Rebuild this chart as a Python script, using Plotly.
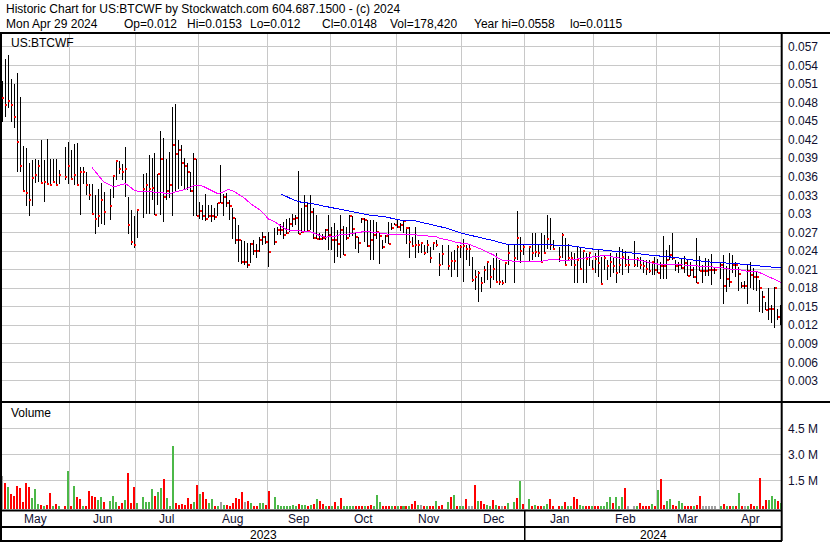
import numpy as np
import pandas as pd
import plotly.graph_objects as go
from plotly.subplots import make_subplots

# ---------------- data ----------------
high = [
    0.0515, 0.0551, 0.0557, 0.0518, 0.0510, 0.0528, 0.0489, 0.0410, 0.0407, 0.0382,
    0.0387, 0.0389, 0.0387, 0.0419, 0.0387, 0.0421, 0.0389, 0.0389, 0.0389, 0.0371,
    0.0408, 0.0416,
    0.0404, 0.0413, 0.0414, 0.0375, 0.0375, 0.0368, 0.0349, 0.0348, 0.0330, 0.0340,
    0.0350, 0.0336, 0.0340, 0.0362, 0.0385, 0.0386, 0.0381, 0.0408, 0.0327, 0.0307,
    0.0296,
    0.0306, 0.0364, 0.0366, 0.0395, 0.0390, 0.0398, 0.0364, 0.0434, 0.0422, 0.0389,
    0.0400, 0.0472, 0.0477, 0.0419, 0.0412, 0.0390, 0.0383, 0.0368, 0.0398, 0.0389,
    0.0319, 0.0314, 0.0332, 0.0314, 0.0314, 0.0310, 0.0318, 0.0379, 0.0332, 0.0333,
    0.0322, 0.0310, 0.0294, 0.0282, 0.0258, 0.0256, 0.0253, 0.0253, 0.0257, 0.0252,
    0.0263, 0.0271, 0.0264,
    0.0271, 0.0278, 0.0279, 0.0283, 0.0287, 0.0292, 0.0294, 0.0300, 0.0298, 0.0369,
    0.0309, 0.0330, 0.0320, 0.0330, 0.0309, 0.0298, 0.0269, 0.0268, 0.0276, 0.0298,
    0.0279, 0.0285, 0.0274, 0.0298, 0.0280, 0.0279, 0.0298, 0.0296, 0.0271, 0.0263,
    0.0293, 0.0293, 0.0290, 0.0290, 0.0290, 0.0287, 0.0269, 0.0258, 0.0266, 0.0287,
    0.0285, 0.0285,
    0.0290, 0.0285, 0.0290, 0.0279, 0.0279, 0.0262, 0.0279, 0.0258, 0.0255, 0.0250,
    0.0258, 0.0247, 0.0255, 0.0258, 0.0236, 0.0250, 0.0250, 0.0239, 0.0242, 0.0250,
    0.0250,
    0.0260, 0.0250, 0.0252, 0.0231, 0.0209, 0.0207, 0.0198, 0.0215, 0.0223, 0.0217,
    0.0228, 0.0236, 0.0225, 0.0193, 0.0220, 0.0252, 0.0252, 0.0305, 0.0263, 0.0252,
    0.0248, 0.0269, 0.0269, 0.0252, 0.0269, 0.0266, 0.0298, 0.0293, 0.0258, 0.0247,
    0.0269, 0.0261, 0.0252, 0.0239, 0.0236, 0.0247, 0.0247, 0.0242, 0.0236, 0.0236,
    0.0226,
    0.0236, 0.0242, 0.0231, 0.0233, 0.0226, 0.0236, 0.0231, 0.0236, 0.0247, 0.0244,
    0.0240, 0.0232, 0.0256, 0.0230, 0.0230, 0.0225, 0.0225, 0.0225, 0.0222, 0.0230,
    0.0227, 0.0222, 0.0264, 0.0242, 0.0250, 0.0269, 0.0225, 0.0222, 0.0227, 0.0232,
    0.0227, 0.0222, 0.0214, 0.0261, 0.0232, 0.0218, 0.0229, 0.0227, 0.0235, 0.0214,
    0.0222, 0.0233, 0.0215, 0.0236, 0.0233, 0.0222, 0.0214, 0.0190, 0.0192, 0.0219,
    0.0222, 0.0212, 0.0207, 0.0193, 0.0176, 0.0158, 0.0181, 0.0153, 0.0182, 0.0147,
    0.0153,
]
low = [
    0.0449, 0.0457, 0.0471, 0.0449, 0.0439, 0.0368, 0.0368, 0.0336, 0.0313, 0.0297,
    0.0313, 0.0350, 0.0351, 0.0350, 0.0319, 0.0349, 0.0345, 0.0352, 0.0345, 0.0349,
    0.0355, 0.0348,
    0.0356, 0.0347, 0.0347, 0.0298, 0.0348, 0.0330, 0.0322, 0.0298, 0.0268, 0.0279,
    0.0283, 0.0282, 0.0290, 0.0325, 0.0355, 0.0365, 0.0355, 0.0327, 0.0267, 0.0250,
    0.0245,
    0.0261, 0.0294, 0.0300, 0.0300, 0.0323, 0.0298, 0.0314, 0.0298, 0.0287, 0.0322,
    0.0325, 0.0297, 0.0336, 0.0340, 0.0345, 0.0341, 0.0338, 0.0336, 0.0297, 0.0296,
    0.0292, 0.0290, 0.0288, 0.0293, 0.0287, 0.0290, 0.0297, 0.0318, 0.0297, 0.0311,
    0.0290, 0.0260, 0.0252, 0.0223, 0.0219, 0.0217, 0.0212, 0.0221, 0.0234, 0.0228,
    0.0239, 0.0250, 0.0252,
    0.0214, 0.0249, 0.0266, 0.0266, 0.0260, 0.0267, 0.0271, 0.0279, 0.0282, 0.0267,
    0.0269, 0.0271, 0.0271, 0.0274, 0.0260, 0.0260, 0.0258, 0.0258, 0.0258, 0.0242,
    0.0242, 0.0220, 0.0231, 0.0228, 0.0234, 0.0258, 0.0263, 0.0265, 0.0244, 0.0237,
    0.0285, 0.0255, 0.0247, 0.0225, 0.0225, 0.0260, 0.0219, 0.0244, 0.0253, 0.0252,
    0.0274, 0.0282,
    0.0277, 0.0272, 0.0269, 0.0252, 0.0228, 0.0246, 0.0228, 0.0236, 0.0236, 0.0234,
    0.0236, 0.0220, 0.0242, 0.0247, 0.0200, 0.0217, 0.0209, 0.0198, 0.0209, 0.0198,
    0.0228,
    0.0190, 0.0225, 0.0215, 0.0190, 0.0177, 0.0158, 0.0174, 0.0188, 0.0193, 0.0180,
    0.0193, 0.0190, 0.0185, 0.0185, 0.0188, 0.0217, 0.0188, 0.0225, 0.0220, 0.0234,
    0.0223, 0.0225, 0.0231, 0.0231, 0.0222, 0.0235, 0.0244, 0.0242, 0.0242, 0.0222,
    0.0228, 0.0217, 0.0225, 0.0215, 0.0188, 0.0188, 0.0210, 0.0188, 0.0188, 0.0215,
    0.0209,
    0.0205, 0.0198, 0.0185, 0.0209, 0.0193, 0.0198, 0.0205, 0.0188, 0.0205, 0.0201,
    0.0214, 0.0204, 0.0214, 0.0214, 0.0211, 0.0204, 0.0202, 0.0204, 0.0202, 0.0202,
    0.0204, 0.0194, 0.0194, 0.0194, 0.0225, 0.0225, 0.0207, 0.0204, 0.0211, 0.0204,
    0.0200, 0.0200, 0.0197, 0.0188, 0.0207, 0.0188, 0.0200, 0.0200, 0.0185, 0.0203,
    0.0194, 0.0155, 0.0174, 0.0182, 0.0204, 0.0198, 0.0176, 0.0180, 0.0178, 0.0155,
    0.0181, 0.0177, 0.0176, 0.0142, 0.0140, 0.0144, 0.0128, 0.0123, 0.0115, 0.0129,
    0.0120,
]
close = [
    0.0488, 0.0476, 0.0482, 0.0476, 0.0457, 0.0417, 0.0378, 0.0337, 0.0334, 0.0323,
    0.0358, 0.0363, 0.0378, 0.0350, 0.0352, 0.0349, 0.0347, 0.0352, 0.0347, 0.0363,
    0.0359, 0.0378,
    0.0356, 0.0363, 0.0347, 0.0367, 0.0368, 0.0347, 0.0330, 0.0300, 0.0292, 0.0297,
    0.0323, 0.0303, 0.0313, 0.0362, 0.0385, 0.0373, 0.0368, 0.0373, 0.0282, 0.0255,
    0.0249,
    0.0306, 0.0340, 0.0347, 0.0340, 0.0342, 0.0298, 0.0364, 0.0388, 0.0328, 0.0337,
    0.0346, 0.0411, 0.0397, 0.0403, 0.0382, 0.0378, 0.0367, 0.0337, 0.0388, 0.0297,
    0.0305, 0.0297, 0.0291, 0.0297, 0.0297, 0.0295, 0.0318, 0.0318, 0.0327, 0.0318,
    0.0313, 0.0294, 0.0258, 0.0258, 0.0223, 0.0223, 0.0218, 0.0252, 0.0240, 0.0240,
    0.0257, 0.0263, 0.0254,
    0.0239, 0.0254, 0.0274, 0.0274, 0.0266, 0.0269, 0.0284, 0.0292, 0.0294, 0.0267,
    0.0270, 0.0312, 0.0273, 0.0303, 0.0261, 0.0260, 0.0260, 0.0261, 0.0274, 0.0266,
    0.0258, 0.0258, 0.0251, 0.0274, 0.0234, 0.0261, 0.0297, 0.0276, 0.0263, 0.0253,
    0.0291, 0.0290, 0.0248, 0.0258, 0.0266, 0.0270, 0.0264, 0.0246, 0.0264, 0.0252,
    0.0277, 0.0282,
    0.0279, 0.0282, 0.0288, 0.0277, 0.0255, 0.0248, 0.0250, 0.0250, 0.0253, 0.0237,
    0.0250, 0.0228, 0.0253, 0.0250, 0.0218, 0.0235, 0.0215, 0.0224, 0.0224, 0.0247,
    0.0247,
    0.0248, 0.0244, 0.0244, 0.0193, 0.0198, 0.0204, 0.0189, 0.0210, 0.0222, 0.0198,
    0.0211, 0.0190, 0.0190, 0.0188, 0.0220, 0.0236, 0.0228, 0.0261, 0.0240, 0.0247,
    0.0247, 0.0237, 0.0239, 0.0236, 0.0223, 0.0237, 0.0259, 0.0249, 0.0244, 0.0230,
    0.0266, 0.0218, 0.0228, 0.0228, 0.0218, 0.0225, 0.0211, 0.0240, 0.0227, 0.0236,
    0.0211,
    0.0227, 0.0221, 0.0187, 0.0228, 0.0216, 0.0223, 0.0215, 0.0205, 0.0218, 0.0231,
    0.0218, 0.0218, 0.0218, 0.0227, 0.0218, 0.0215, 0.0211, 0.0208, 0.0222, 0.0210,
    0.0205, 0.0215, 0.0215, 0.0225, 0.0233, 0.0228, 0.0215, 0.0218, 0.0213, 0.0221,
    0.0200, 0.0209, 0.0198, 0.0188, 0.0208, 0.0208, 0.0208, 0.0210, 0.0210, 0.0209,
    0.0217, 0.0183, 0.0194, 0.0190, 0.0218, 0.0218, 0.0203, 0.0183, 0.0183, 0.0207,
    0.0202, 0.0198, 0.0198, 0.0180, 0.0166, 0.0145, 0.0147, 0.0147, 0.0181, 0.0133,
    0.0148,
]
# daily volume, millions of shares
volume_m = [
    1.75, 1.37, 1.13, 0.71, 0.60, 1.17, 1.06, 0.27, 1.35, 1.12,
    0.50, 1.00, 0.13, 0.10, 0.03, 0.08, 0.77, 0.03, 0.13, 0.03,
    0.03, 2.06, 0.03, 1.19, 0.54, 0.40, 0.02, 0.01, 0.88, 0.60,
    0.56, 0.37, 0.54, 0.27, 0.33, 0.60, 0.25, 0.03, 0.19, 0.37,
    1.92, 0.21, 1.12, 0.21, 0.54, 0.27, 0.25, 1.00, 0.60, 0.83,
    1.06, 1.58, 0.50, 0.03, 3.48, 0.19, 0.10, 0.11, 0.08, 0.48,
    0.13, 0.27, 1.23, 0.71, 0.83, 0.40, 0.19, 0.42, 0.01, 0.01,
    0.27, 0.08, 0.10, 0.01, 0.21, 0.50, 0.42, 0.83, 0.27, 0.33,
    0.19, 0.01, 0.03, 0.21, 0.17, 0.10, 0.88, 0.54, 0.08, 0.01,
    0.01, 0.01, 0.01, 0.06, 0.01, 0.13, 0.08, 0.08, 0.03, 0.08,
    0.13, 0.42, 0.33, 0.11, 0.03, 0.01, 0.01, 0.25, 0.01, 0.48,
    0.03, 0.01, 0.01, 0.01, 0.03, 0.01, 0.03, 0.01, 0.03, 0.08,
    0.01, 0.65, 0.25, 0.03, 0.01, 0.03, 0.03, 0.01, 0.03, 0.01,
    0.03, 0.01, 0.01, 0.13, 0.33, 0.10,
    0.08, 0.03, 0.03, 0.03, 0.03, 0.31, 0.03, 0.08,
    0.25, 0.54, 0.65, 0.03, 0.01, 0.01, 0.42, 0.01, 0.01, 1.23,
    0.31, 0.31, 0.13, 0.08, 0.01, 0.37, 0.08, 0.03, 0.03, 0.03,
    0.19, 0.25, 0.48, 1.48, 0.13, 0.42, 0.01, 0.08, 0.03, 0.03,
    0.01, 0.13, 0.44, 0.03,
    0.03, 0.03, 0.25, 0.03, 0.03, 0.54, 0.42, 0.08, 0.03, 0.01,
    0.01, 0.01, 0.03, 0.03, 0.01, 0.03, 0.27, 0.54, 0.19, 0.54,
    0.01, 0.54, 1.06, 0.03,
    0.03, 0.03, 0.21, 0.03, 0.03, 0.03, 0.13, 0.03, 0.94, 1.58,
    0.08, 0.31, 0.42, 0.08, 0.03, 0.31, 0.21, 0.01, 0.03, 0.01,
    0.03, 0.08, 0.60, 0.03, 0.03, 0.03, 0.03, 0.01, 0.01, 0.13,
    0.03, 0.01, 0.03, 0.01, 0.77, 0.01, 0.01, 0.01, 0.13, 0.01,
    0.03, 1.65, 0.03, 0.38, 0.38, 0.60, 0.42, 0.31, 0.178,
]
# day-over-day change shown by the volume colour: u = up, d = down, n = unchanged
volume_dir = list(
    "nduddddddd" "uuududdudu" "dududduddd" "duuduuuddu" "ddduuuuudu"
    "uduuuddddd" "dududduudu" "nuddddddnd" "udduudduuu" "uuuuuduudu"
    "duddududud" "uuuudddudd" "uuudddudud" "ududdu"
    "nduddudd" "ududuudnnd" "udduududnd" "uududududd" "uudd"
    "duduudduud" "dudduuuudu" "uudn"
    "nuddddudud" "duudduuddd" "uddnnnnnud" "udududnudd" "uddduuudu"
)

price_ticks = [0.003, 0.006, 0.009, 0.012, 0.015, 0.018, 0.021, 0.024, 0.027, 0.03,
               0.033, 0.036, 0.039, 0.042, 0.045, 0.048, 0.051, 0.054, 0.057]
volume_ticks = [1_500_000, 3_000_000, 4_500_000]
volume_tick_text = ["1.5 M", "3.0 M", "4.5 M"]
holidays = ["2023-05-29", "2023-06-19", "2023-07-04", "2023-09-04", "2023-11-23",
            "2023-12-25", "2024-01-01", "2024-01-15", "2024-02-19", "2024-03-29"]
symbol = "US:BTCWF"
header_title = "Historic Chart for US:BTCWF by Stockwatch.com 604.687.1500 - (c) 2024"
header_fields = ["Mon Apr 29 2024", "Op=0.012", "Hi=0.0153", "Lo=0.012", "Cl=0.0148",
                 "Vol=178,420", "Year hi=0.0558", "lo=0.0115"]
ma_short, ma_long = 30, 90

# ---------------- geometry helpers (page pixels -> paper) ----------------
W, H = 830, 543
PL, PR, PT, PB = 2, 782, 34, 509          # plot box in page pixels


def px(v):
    return (v - PL) / (PR - PL)


def py(v):
    return (PB - v) / (PB - PT)


FONT = "Arial, 'Liberation Sans', sans-serif"
AXC = "#101030"

# ---------------- x positions: one slot per weekday ----------------
weekdays = pd.bdate_range("2023-05-01", "2024-04-29")
trade_days = weekdays[~weekdays.isin(pd.to_datetime(holidays))]
slot = pd.Series(np.arange(len(weekdays)), index=weekdays)
xpos = slot.loc[trade_days].to_numpy().astype(float)
n = len(trade_days)
assert len(high) == len(low) == len(close) == len(volume_m) == len(volume_dir) == n, \
    (len(high), len(low), len(close), len(volume_m), len(volume_dir), n)

xr = [-0.1, 260.42]
per = weekdays.to_period("M")
months = per.unique()
starts = [int(np.flatnonzero(per == m)[0]) for m in months]
edges = [max(s - 0.5, xr[0]) for s in starts] + [xr[1]]
grid_x = [s - 0.5 for s in starts[1:]]
month_mid = [(edges[i] + edges[i + 1]) / 2 for i in range(len(months))]
month_lab = [m.strftime("%b") for m in months]
jan_edge = [s - 0.5 for s, m in zip(starts, months) if m.month == 1][0]

close_s = pd.Series(close)
ma1 = close_s.rolling(ma_short).mean()
ma2 = close_s.rolling(ma_long).mean()

# ---------------- figure ----------------
fig = make_subplots(rows=2, cols=1, shared_xaxes=True, vertical_spacing=0)

hx, hy, cx, cy = [], [], [], []
for xi, h, l, c in zip(xpos, high, low, close):
    hx += [xi, xi, None]
    hy += [l, h, None]
    cx += [xi, xi + 0.67, None]
    cy += [c, c, None]

fig.add_trace(go.Scatter(x=hx, y=hy, mode="lines", line=dict(color="black", width=1),
                         hoverinfo="skip"), row=1, col=1)
fig.add_trace(go.Scatter(x=cx, y=cy, mode="lines", line=dict(color="#ff0000", width=2),
                         hoverinfo="skip"), row=1, col=1)
fig.add_trace(go.Scatter(x=xpos, y=ma1, mode="lines", line=dict(color="#ff00ff", width=1),
                         hoverinfo="skip"), row=1, col=1)
fig.add_trace(go.Scatter(x=xpos, y=ma2, mode="lines", line=dict(color="#0000ff", width=1),
                         hoverinfo="skip"), row=1, col=1)

p_range = [(399.5 - 401) / 6187, (399.5 - 34) / 6187]
v_range = [(506.3 - 509) * 1.5e6 / 26, (506.3 - 403) * 1.5e6 / 26]
vbase = v_range[0]
dir_color = {"u": "#4cb848", "d": "#ff0000", "n": "#a0a0a0"}
vol = np.array(volume_m) * 1e6
fig.add_trace(go.Bar(x=xpos, y=vol - vbase, base=vbase, width=0.67,
                     marker=dict(color=[dir_color[d] for d in volume_dir], line=dict(width=0)),
                     hoverinfo="skip"), row=2, col=1)

fig.update_layout(
    width=W, height=H, margin=dict(l=PL, r=W - PR, t=PT, b=H - PB),
    paper_bgcolor="white", plot_bgcolor="white", showlegend=False, bargap=0,
    font=dict(family=FONT, size=12, color="black"),
)
fig.update_xaxes(range=xr, tickvals=grid_x, showticklabels=False, ticks="",
                 showgrid=True, gridcolor="#c8c8c8", gridwidth=1,
                 zeroline=False, showline=False)
fig.update_layout(
    yaxis=dict(domain=[py(401), 1.0], range=p_range, side="right",
               tickvals=price_ticks, ticktext=[f"{v:g}" for v in price_ticks],
               showgrid=True, gridcolor="#c8c8c8", gridwidth=1, zeroline=False,
               ticks="", ticklabelstandoff=5, tickfont=dict(size=12, color=AXC, family=FONT)),
    yaxis2=dict(domain=[0.0, py(403)], range=v_range, side="right",
                tickvals=volume_ticks, ticktext=volume_tick_text,
                showgrid=True, gridcolor="#c8c8c8", gridwidth=1, zeroline=False,
                ticks="", ticklabelstandoff=5, tickfont=dict(size=12, color=AXC, family=FONT)),
)

# frame lines
frame = [
    (0, 33, 830, 33), (1, 33, 1, 541), (781.7, 33, 781.7, 541),
    (0, 402, 830, 402), (0, 510.5, 782, 510.5), (0, 527, 782, 527), (0, 541, 782, 541),
]
shapes = [dict(type="line", xref="paper", yref="paper", x0=px(a), y0=py(b), x1=px(c), y1=py(d),
               line=dict(color="black", width=2), layer="above") for a, b, c, d in frame]
shapes.append(dict(type="line", xref="x", yref="paper", x0=jan_edge, x1=jan_edge,
                   y0=py(510.5), y1=py(541), line=dict(color="black", width=1.5), layer="above"))
fig.update_layout(shapes=shapes)

ann = []
ann.append(dict(text=header_title, x=px(4), y=py(9), xref="paper", yref="paper",
                xanchor="left", yanchor="middle", showarrow=False,
                font=dict(size=12, color="black", family=FONT)))
field_x = [4, 122, 185, 248, 320, 388, 472, 568]
for t, fx in zip(header_fields, field_x):
    ann.append(dict(text=t, x=px(fx), y=py(24.5), xref="paper", yref="paper",
                    xanchor="left", yanchor="middle", showarrow=False,
                    font=dict(size=12, color="black", family=FONT)))
ann.append(dict(text=symbol, x=px(9), y=py(43), xref="paper", yref="paper",
                xanchor="left", yanchor="middle", showarrow=False,
                font=dict(size=12, color="black", family=FONT)))
ann.append(dict(text="Volume", x=px(9), y=py(413), xref="paper", yref="paper",
                xanchor="left", yanchor="middle", showarrow=False,
                font=dict(size=12, color="black", family=FONT)))
for lab, mx in zip(month_lab, month_mid):
    ann.append(dict(text=lab, x=mx, y=py(518.5), xref="x", yref="paper",
                    xanchor="center", yanchor="middle", showarrow=False,
                    font=dict(size=12, color=AXC, family=FONT)))
for lab, yx in [("2023", (xr[0] + jan_edge) / 2), ("2024", (jan_edge + xr[1]) / 2)]:
    ann.append(dict(text=lab, x=yx, y=py(534.5), xref="x", yref="paper",
                    xanchor="center", yanchor="middle", showarrow=False,
                    font=dict(size=12, color="black", family=FONT)))
fig.update_layout(annotations=ann)

post = ("document.body.style.margin='0';document.body.style.overflow='hidden';"
        "document.querySelectorAll('.scatterlayer path.js-line').forEach(function(p){"
        "p.style.shapeRendering='crispEdges';});")
fig.write_html("out.html", post_script=post,
               config={"displayModeBar": False, "staticPlot": True})
